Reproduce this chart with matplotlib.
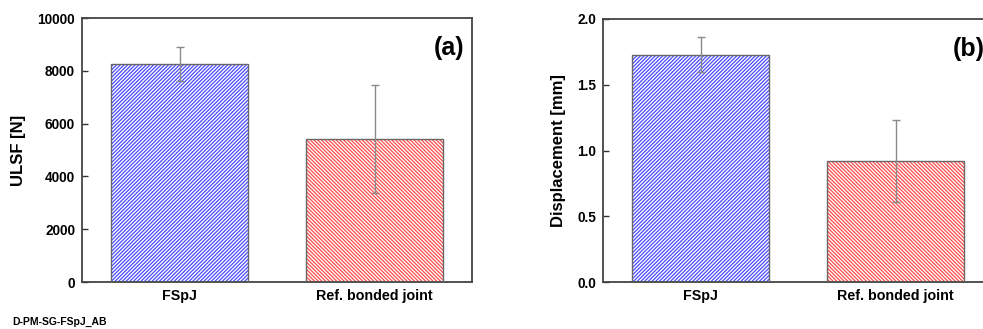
import matplotlib
matplotlib.use('Agg')
import numpy as np
from matplotlib import pyplot as plt

categories = ['FSpJ', 'Ref. bonded joint']
ulsf = [8250, 5430]
ulsf_err = [650, 2040]
disp = [1.73, 0.92]
disp_err = [0.13, 0.31]

plt.rcParams['font.family'] = ['Liberation Sans', 'DejaVu Sans']
plt.rcParams['font.weight'] = 'bold'
plt.rcParams['hatch.linewidth'] = 0.9

colors = ['#4a4aff', '#ff4a4a']
hatches = ['/' * 9, '\\' * 9]


def draw_panel(ax, values, errors, ylim, yticks, ylabel, tag):
    x = np.arange(len(values))
    for i in range(len(values)):
        ax.bar(x[i], values[i], width=0.7, color='white', edgecolor=colors[i],
               hatch=hatches[i], linewidth=0, zorder=2)
        ax.bar(x[i], values[i], width=0.7, fill=False, edgecolor='#666666',
               linewidth=1.0, zorder=3)
    ax.errorbar(x, values, yerr=errors, fmt='none', ecolor='#8a8a8a',
                elinewidth=1.0, capsize=3, capthick=1.0, zorder=4)
    ax.set_xlim(-0.5, 1.5)
    ax.set_ylim(*ylim)
    ax.set_yticks(yticks)
    ax.set_xticks(x)
    ax.set_xticklabels(categories, fontsize=10.3, fontweight='bold')
    ax.tick_params(axis='x', length=0, pad=5)
    ax.tick_params(axis='y', direction='in', length=4, width=1.0,
                   labelsize=9.8, color='#333333', pad=5)
    for lab in ax.get_yticklabels():
        lab.set_fontweight('bold')
    ax.set_ylabel(ylabel, fontsize=12, fontweight='bold', labelpad=8)
    for s in ax.spines.values():
        s.set_color('#444444')
        s.set_linewidth(1.3)
    ax.text(0.98, 0.93, tag, transform=ax.transAxes, ha='right', va='top',
            fontsize=18, fontweight='bold')


fig = plt.figure(figsize=(9.83, 3.29), dpi=100)
ax1 = fig.add_axes([82 / 983, 47 / 329, 390 / 983, 264 / 329])
ax2 = fig.add_axes([603 / 983, 47 / 329, 390 / 983, 263 / 329])

draw_panel(ax1, ulsf, ulsf_err, (0, 10000), [0, 2000, 4000, 6000, 8000, 10000],
           'ULSF [N]', '(a)')
draw_panel(ax2, disp, disp_err, (0, 2.0), [0.0, 0.5, 1.0, 1.5, 2.0],
           'Displacement [mm]', '(b)')
ax2.set_yticklabels(['0.0', '0.5', '1.0', '1.5', '2.0'], fontweight='bold')

fig.text(12 / 983, 1 - 322 / 329, 'D-PM-SG-FSpJ_AB', fontsize=7.5,
         fontweight='bold', va='center', ha='left')

fig.savefig('out.png', dpi=100)
